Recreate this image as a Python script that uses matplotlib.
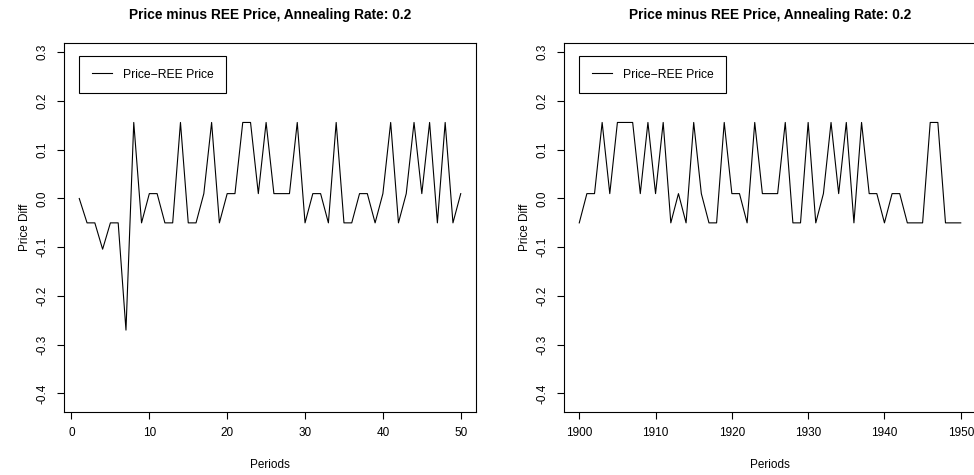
import matplotlib
matplotlib.use("Agg")
import matplotlib.pyplot as plt

plt.rcParams['font.family'] = ['Liberation Sans', 'DejaVu Sans']

# left run: periods 1..50
periods_a = list(range(1, 51))
diff_a = [0.0, -0.05, -0.05, -0.104, -0.05, -0.05, -0.27, 0.156, -0.05, 0.01,
          0.01, -0.05, -0.05, 0.156, -0.05, -0.05, 0.01, 0.156, -0.05, 0.01,
          0.01, 0.156, 0.156, 0.01, 0.156, 0.01, 0.01, 0.01, 0.156, -0.05,
          0.01, 0.01, -0.05, 0.156, -0.05, -0.05, 0.01, 0.01, -0.05, 0.01,
          0.156, -0.05, 0.01, 0.156, 0.01, 0.156, -0.05, 0.156, -0.05, 0.01]

# right run: periods 1900..1950
periods_b = list(range(1900, 1951))
diff_b = [-0.05, 0.01, 0.01, 0.156, 0.01, 0.156, 0.156, 0.156, 0.01, 0.156,
          0.01, 0.156, -0.05, 0.01, -0.05, 0.156, 0.01, -0.05, -0.05, 0.156,
          0.01, 0.01, -0.05, 0.156, 0.01, 0.01, 0.01, 0.156, -0.05, -0.05,
          0.156, -0.05, 0.01, 0.156, 0.01, 0.156, -0.05, 0.156, 0.01, 0.01,
          -0.05, 0.01, 0.01, -0.05, -0.05, -0.05, 0.156, 0.156, -0.05, -0.05,
          -0.05]

title = "Price minus REE Price, Annealing Rate: 0.2"
yticks = [-0.4, -0.3, -0.2, -0.1, 0.0, 0.1, 0.2, 0.3]
xticks_a = [0, 10, 20, 30, 40, 50]
xticks_b = [1900, 1910, 1920, 1930, 1940, 1950]

fig = plt.figure(figsize=(9.74, 4.75), dpi=100)
ax1 = fig.add_axes([64 / 974, 63 / 475, 412 / 974, 369 / 475])
ax2 = fig.add_axes([564 / 974, 63 / 475, 412 / 974, 369 / 475])

for ax, x, y, xt in [(ax1, periods_a, diff_a, xticks_a),
                     (ax2, periods_b, diff_b, xticks_b)]:
    ax.plot(x, y, color='black', lw=0.8, label="Price\u2212REE Price")
    ext = (x[-1] - x[0]) * 0.04
    ax.set_xlim(x[0] - ext, x[-1] + ext)
    ax.set_ylim(-0.438, 0.319)
    ax.set_xticks(xt)
    ax.set_yticks(yticks)
    ax.set_yticklabels(["%.1f" % v for v in yticks], rotation=90, va='center')
    ax.tick_params(direction='out', length=5, width=0.8, labelsize=8.5, pad=6,
                   color='black')
    for s in ax.spines.values():
        s.set_linewidth(0.8)
    ax.set_xlabel("Periods", fontsize=8.5, labelpad=14)
    ax.set_ylabel("Price Diff", fontsize=8.5, labelpad=4)
    ax.set_title(title, fontsize=9.9, fontweight='bold', pad=17)
    leg = ax.legend(loc='upper left', bbox_to_anchor=(0.036, 0.965),
                    fontsize=8.7, fancybox=False, edgecolor='black',
                    framealpha=1, handlelength=1.7, borderpad=1.05,
                    handletextpad=0.9, borderaxespad=0)
    leg.get_frame().set_linewidth(0.8)

fig.savefig("out.png", dpi=100)
